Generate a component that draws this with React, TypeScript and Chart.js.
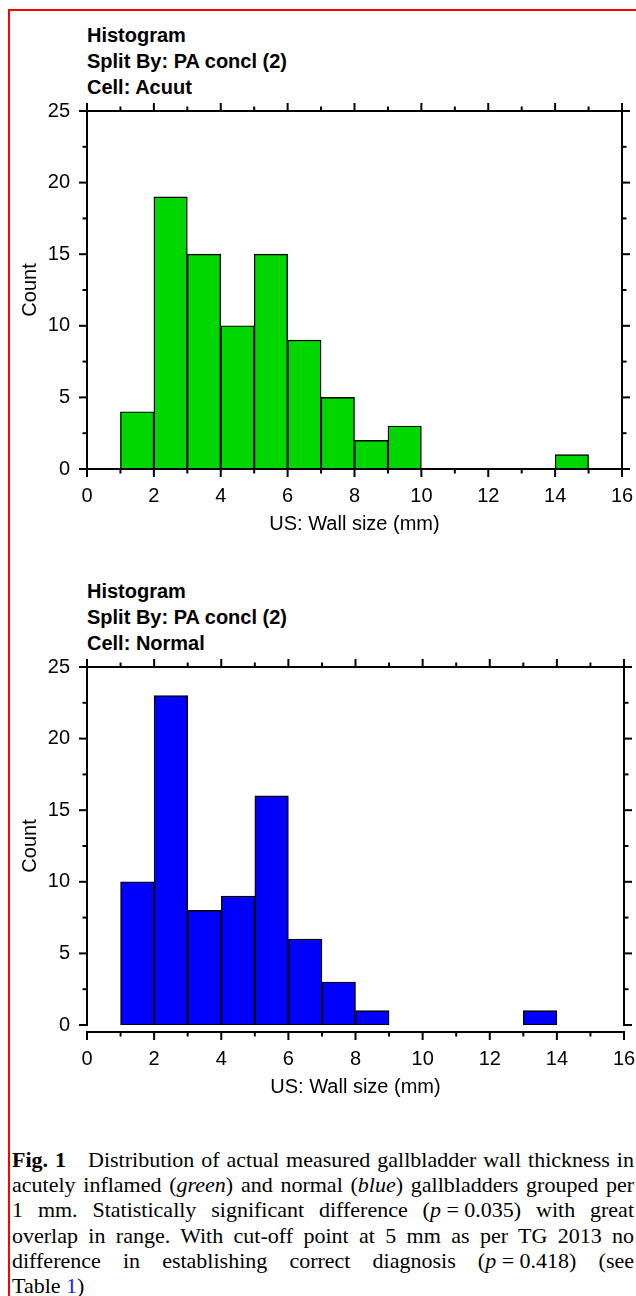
import React, { useEffect, useRef } from 'react';
import { Chart, registerables } from 'chart.js';

Chart.register(...registerables);
Chart.defaults.font.family = "'Liberation Sans', Arial, Helvetica, sans-serif";
Chart.defaults.color = '#000';

// ---- data ----
const binCentersAcute = [1.5, 2.5, 3.5, 4.5, 5.5, 6.5, 7.5, 8.5, 9.5, 14.5];
const countsAcute = [4, 19, 15, 10, 15, 9, 5, 2, 3, 1];
const binCentersNormal = [1.5, 2.5, 3.5, 4.5, 5.5, 6.5, 7.5, 8.5, 13.5];
const countsNormal = [10, 23, 8, 9, 16, 6, 3, 1, 1];
const xMin = 0;
const xMax = 16;
const xLabelStep = 2;
const yMin = 0;
const yMax = 25;
const yLabelStep = 5;
const titleLinesAcute = ['Histogram', 'Split By: PA concl (2)', 'Cell: Acuut'];
const titleLinesNormal = ['Histogram', 'Split By: PA concl (2)', 'Cell: Normal'];
const xAxisTitle = 'US: Wall size (mm)';
const yAxisTitle = 'Count';

const framePlugin = {
  id: 'frame',
  afterDraw(chart: any, _args: any, opts: any) {
    const { ctx, chartArea } = chart;
    const { left, right, top, bottom } = chartArea;
    const xs = chart.scales.x;
    const ys = chart.scales.y;
    const gap = opts.gap || 0;
    const axisY = bottom + gap;
    ctx.save();
    ctx.strokeStyle = '#000';
    ctx.lineWidth = 2;
    ctx.lineCap = 'butt';
    const line = (x1: number, y1: number, x2: number, y2: number) => {
      ctx.beginPath();
      ctx.moveTo(x1, y1);
      ctx.lineTo(x2, y2);
      ctx.stroke();
    };
    line(left - 1, top, right + 1, top);
    line(left, top, left, bottom + 1);
    line(right, top, right, bottom + 1);
    line(left - 1, axisY, right + 1, axisY);
    for (let v = xMin; v <= xMax; v += 1) {
      const px = xs.getPixelForValue(v);
      const len = v % 2 === 0 ? 8 : 4.5;
      line(px, top, px, top - len);
      line(px, axisY, px, axisY + len);
    }
    for (let v = yMin; v <= yMax; v += 2.5) {
      const py = ys.getPixelForValue(v);
      const len = v % 5 === 0 ? 8 : 4.5;
      line(left, py, left - len, py);
      line(right, py, right + len, py);
    }
    ctx.restore();
  },
};

type HistProps = {
  top: number;
  centers: number[];
  counts: number[];
  color: string;
  gap: number;
  plotRight: number;
};

const CANVAS_W = 636;
const CANVAS_H = 450;

function Histogram({ top, centers, counts, color, gap, plotRight }: HistProps) {
  const ref = useRef<HTMLCanvasElement | null>(null);
  useEffect(() => {
    if (!ref.current) return;
    const chart = new Chart(ref.current, {
      type: 'bar',
      data: {
        datasets: [
          {
            data: centers.map((x, i) => ({ x, y: counts[i] })),
            backgroundColor: color,
            borderColor: '#000',
            borderWidth: 1.4,
            borderSkipped: false,
            barPercentage: 1,
            categoryPercentage: 1,
          } as any,
        ],
      },
      options: {
        responsive: false,
        animation: false,
        layout: { padding: { top: 16, right: CANVAS_W - plotRight, left: 0, bottom: 0 } },
        plugins: {
          legend: { display: false },
          tooltip: { enabled: false },
          frame: { gap },
        } as any,
        scales: {
          x: {
            type: 'linear',
            min: xMin,
            max: xMax,
            offset: false,
            afterFit: (s: any) => {
              s.height = 76;
              s.paddingLeft = 0;
              s.paddingRight = 0;
              s.paddingTop = 0;
              s.paddingBottom = 0;
            },
            grid: { display: false, drawTicks: false },
            border: { display: false },
            ticks: {
              stepSize: xLabelStep,
              padding: 15 + gap,
              font: { size: 20 },
              color: '#000',
              maxRotation: 0,
              autoSkip: false,
            },
            title: {
              display: true,
              text: xAxisTitle,
              font: { size: 20 },
              color: '#000',
              padding: { top: 0, bottom: 9 - gap },
            },
          },
          y: {
            min: yMin,
            max: yMax,
            afterFit: (s: any) => {
              s.width = 87;
              s.paddingLeft = 0;
              s.paddingRight = 0;
              s.paddingTop = 0;
              s.paddingBottom = 0;
            },
            grid: { display: false, drawTicks: false },
            border: { display: false },
            ticks: {
              stepSize: yLabelStep,
              padding: 17,
              font: { size: 20 },
              color: '#000',
            },
            title: {
              display: true,
              text: yAxisTitle,
              font: { size: 20 },
              color: '#000',
              padding: { top: 18, bottom: 0 },
            },
          },
        },
      } as any,
      plugins: [framePlugin as any],
    });
    return () => chart.destroy();
  }, []);
  return (
    <canvas
      ref={ref}
      width={CANVAS_W}
      height={CANVAS_H}
      style={{ position: 'absolute', left: 0, top, width: CANVAS_W, height: CANVAS_H, display: 'block' }}
    />
  );
}

function TitleBlock({ top, lines }: { top: number; lines: string[] }) {
  return (
    <div
      style={{
        position: 'absolute',
        left: 87,
        top,
        fontFamily: "'Liberation Sans', Arial, sans-serif",
        fontWeight: 'bold',
        fontSize: 20,
        lineHeight: '26px',
        color: '#000',
        whiteSpace: 'nowrap',
      }}
    >
      {lines.map((l, i) => (
        <div key={i}>{l}</div>
      ))}
    </div>
  );
}

const justLine: React.CSSProperties = { textAlign: 'justify', textAlignLast: 'justify' as any };
const EQ = '\u2005=\u2005';

function Caption() {
  return (
    <div
      style={{
        position: 'absolute',
        left: 12,
        top: 1147,
        width: 622,
        fontFamily: "'Liberation Serif', 'Times New Roman', serif",
        fontSize: 22,
        lineHeight: '25.2px',
        color: '#000',
      }}
    >
      <div style={justLine}>
        <b>Fig. 1</b>{'\u2003'}Distribution of actual measured gallbladder wall thickness in
      </div>
      <div style={justLine}>
        acutely inflamed (<i>green</i>) and normal (<i>blue</i>) gallbladders grouped per
      </div>
      <div style={justLine}>
        1 mm. Statistically significant difference (<i>p</i>{EQ}0.035) with great
      </div>
      <div style={justLine}>
        overlap in range. With cut-off point at 5 mm as per TG 2013 no
      </div>
      <div style={justLine}>
        difference in establishing correct diagnosis (<i>p</i>{EQ}0.418) (see
      </div>
      <div>
        Table <span style={{ color: '#1a1aff' }}>1</span>)
      </div>
    </div>
  );
}

export default function App() {
  useEffect(() => {
    document.body.style.margin = '0';
    document.documentElement.style.overflow = 'hidden';
  }, []);
  return (
    <div
      style={{
        position: 'absolute',
        left: 0,
        top: 0,
        width: 636,
        height: 1296,
        overflow: 'hidden',
        background: '#fff',
      }}
    >
      <div
        style={{
          position: 'absolute',
          left: 8,
          top: 9,
          right: 0,
          bottom: 0,
          borderLeft: '2px solid #ff0000',
          borderTop: '2px solid #ff0000',
        }}
      />
      <TitleBlock top={22} lines={titleLinesAcute} />
      <Histogram top={95} centers={binCentersAcute} counts={countsAcute} color="#00d700" gap={0} plotRight={622} />
      <TitleBlock top={578} lines={titleLinesNormal} />
      <Histogram top={651} centers={binCentersNormal} counts={countsNormal} color="#0000ff" gap={7} plotRight={624} />
      <Caption />
    </div>
  );
}
